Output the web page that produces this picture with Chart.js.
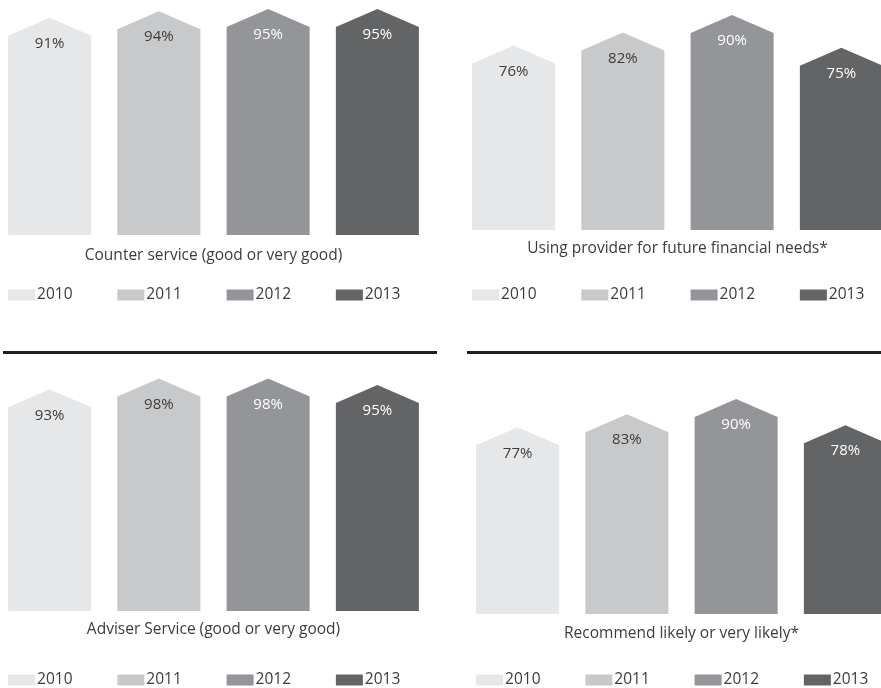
<!DOCTYPE html>
<html>
<head>
<meta charset="utf-8">
<script src="https://cdn.jsdelivr.net/npm/chart.js@4"></script>
<style>
  body { margin: 0; width: 881px; height: 688px; overflow: hidden; background: #fff; position: relative; }
  canvas { position: absolute; }
  .rule { position: absolute; height: 3px; background: #231f20; top: 351px; }
</style>
</head>
<body>
<div class="rule" style="left:3px; width:434px;"></div>
<div class="rule" style="left:467px; width:414px;"></div>

<canvas id="c1" width="437" height="320" style="left:-5px; top:0px;"></canvas>
<canvas id="c2" width="437" height="320" style="left:459px; top:0px;"></canvas>
<canvas id="c3" width="437" height="348" style="left:-5px; top:340px;"></canvas>
<canvas id="c4" width="437" height="348" style="left:463px; top:340px;"></canvas>

<script>
// Données
const years = ['2010', '2011', '2012', '2013'];
const counterService = [91, 94, 95, 95];
const futureNeeds = [76, 82, 90, 75];
const adviserService = [93, 98, 98, 95];
const recommendLikely = [77, 83, 90, 78];
const panelTitles = [
    'Counter service (good or very good)',
    'Using provider for future financial needs*',
    'Adviser Service (good or very good)',
    'Recommend likely or very likely*'
];

// Couleurs par année
const yearColors = ['#e6e7e9', '#c8c9cb', '#939598', '#636466'];
const valueTextColors = ['#3c3c3c', '#3c3c3c', '#ffffff', '#ffffff'];
const FONT = '"Open Sans", "Noto Sans", sans-serif';
const ROOF = 18; // hauteur du toit du pentagone

// Mise en page de chaque panneau (marges internes)
const panels = [
    { id: 'c1', values: counterService, padTop: 16, padBottom: 85, legendGap: 60, titleGap: 21 },
    { id: 'c2', values: futureNeeds, padTop: 11, padBottom: 90, legendGap: 65, titleGap: 19 },
    { id: 'c3', values: adviserService, padTop: 52, padBottom: 77, legendGap: 69, titleGap: 19 },
    { id: 'c4', values: recommendLikely, padTop: 55, padBottom: 74, legendGap: 66, titleGap: 20 }
];

// Plugin : barres en forme de maison + étiquettes + légende alignée sur les barres
const houseBars = {
    id: 'houseBars',
    beforeDatasetDraw(chart, args) {
        const ctx = chart.ctx;
        const ds = chart.data.datasets[args.index];
        args.meta.data.forEach((bar, i) => {
            const p = bar.getProps(['x', 'y', 'base', 'width'], true);
            const l = p.x - p.width / 2, r = p.x + p.width / 2;
            ctx.save();
            ctx.fillStyle = ds.backgroundColor[i];
            ctx.beginPath();
            ctx.moveTo(l, p.base);
            ctx.lineTo(l, p.y);
            ctx.lineTo(p.x, p.y - ROOF);
            ctx.lineTo(r, p.y);
            ctx.lineTo(r, p.base);
            ctx.closePath();
            ctx.fill();

            ctx.fillStyle = valueTextColors[i];
            ctx.font = '15px ' + FONT;
            ctx.textAlign = 'center';
            ctx.textBaseline = 'middle';
            ctx.fillText(ds.data[i] + '%', p.x, p.y + 8);
            ctx.restore();
        });
        return false;
    },
    afterDraw(chart, args, opts) {
        const ctx = chart.ctx;
        const area = chart.chartArea;
        const meta = chart.getDatasetMeta(0);
        ctx.save();
        ctx.fillStyle = '#3c3c3c';
        ctx.font = '15.5px ' + FONT;
        ctx.textAlign = 'center';
        ctx.textBaseline = 'middle';
        ctx.fillText(opts.title, (area.left + area.right) / 2, area.bottom + opts.titleGap);

        const ly = area.bottom + opts.legendGap;
        ctx.font = '15.5px ' + FONT;
        ctx.textAlign = 'left';
        meta.data.forEach((bar, i) => {
            const p = bar.getProps(['x', 'width'], true);
            const l = p.x - p.width / 2;
            ctx.fillStyle = yearColors[i];
            ctx.fillRect(l, ly - 5.5, 27, 11);
            ctx.fillStyle = '#3c3c3c';
            ctx.fillText(chart.data.labels[i], l + 29, ly);
        });
        ctx.restore();
    }
};

panels.forEach((pn, k) => {
    new Chart(document.getElementById(pn.id), {
        type: 'bar',
        data: {
            labels: years,
            datasets: [{
                data: pn.values,
                backgroundColor: yearColors,
                categoryPercentage: 1,
                barPercentage: 0.76
            }]
        },
        options: {
            responsive: false,
            animation: false,
            layout: { padding: { top: pn.padTop, bottom: pn.padBottom, left: 0, right: 0 } },
            scales: {
                x: { display: false },
                y: { display: false, min: 0, max: 100 }
            },
            plugins: {
                legend: { display: false },
                tooltip: { enabled: false },
                houseBars: { title: panelTitles[k], legendGap: pn.legendGap, titleGap: pn.titleGap }
            }
        },
        plugins: [houseBars]
    });
});
</script>
</body>
</html>
